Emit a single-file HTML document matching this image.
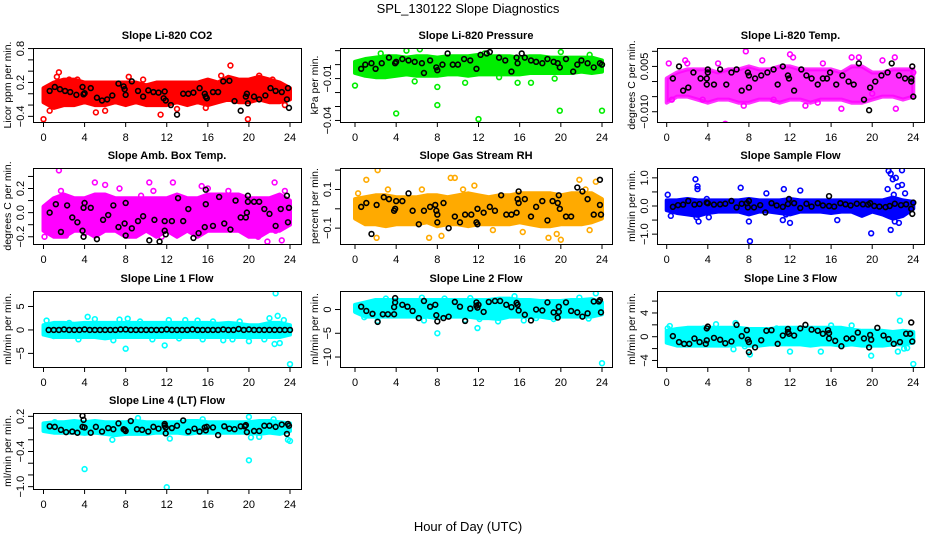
<!DOCTYPE html>
<html><head><meta charset="utf-8">
<style>
html,body{margin:0;padding:0;background:#fff;}
svg{display:block;font-family:"Liberation Sans",Helvetica,Arial,sans-serif;}
</style></head>
<body>
<svg id="chart" width="936" height="540" viewBox="0 0 936 540" xmlns="http://www.w3.org/2000/svg">
<rect x="0" y="0" width="936" height="540" fill="#fff"/>
<text x="468" y="13" text-anchor="middle" font-size="13">SPL_130122  Slope Diagnostics</text>
<text x="468" y="531" text-anchor="middle" font-size="13">Hour of Day (UTC)</text>
</svg>
<script>
// shared band hours
const bandHours = [0,1,2,3,4,5,6,7,8,9,10,11,12,13,14,15,16,17,18,19,20,21,22,23,24];
const xTicks = [0,4,8,12,16,20,24];

// Panel 1: CO2
const p1Lo = [-0.15,-0.25,-0.2,-0.2,-0.15,-0.2,-0.2,-0.15,-0.2,-0.15,-0.2,-0.2,-0.2,-0.15,-0.2,-0.15,-0.2,-0.15,-0.1,-0.15,-0.15,-0.1,-0.15,-0.15,-0.1];
const p1Hi = [0.1,0.2,0.25,0.25,0.2,0.2,0.2,0.2,0.2,0.2,0.15,0.2,0.2,0.2,0.2,0.2,0.25,0.2,0.3,0.25,0.25,0.3,0.25,0.2,0.1];
const p1OutX = [1.6,1.5,0,18.2,19.9,11.4,6,5.1,0.6,21,23.5,2.5,8.3,13,1.3,3.3,9.7,15.8,17.3,22.3];
const p1OutY = [0.85,0.38,-0.45,0.5,-0.45,-0.37,-0.3,-0.33,-0.3,0.32,-0.2,0.25,0.3,-0.27,0.3,0.25,0.25,-0.25,0.32,0.25];
const p1BlkX = [0.6,1.1,1.6,2.1,2.6,3.2,3.8,3.9,4,4.6,5.2,5.7,6.2,6.7,7.3,7.8,7.9,8,8.6,9.2,9.7,10.2,10.7,11.2,11.7,11.8,11.9,12.4,13,13.6,14.1,14.6,15.2,15.7,15.8,15.9,16.5,17,17.5,18.1,18.6,19.2,19.7,19.8,19.9,20.5,21,21.6,22.1,22.6,23.2,23.7,23.8,23.9];
const p1BlkY = [0.05,0.12,0.08,0.05,0.03,-0.02,0.12,-0.01,0.01,0.1,-0.07,-0.12,-0.1,-0.03,0.18,0.13,0.08,-0.02,0.22,0.05,-0.05,0.06,0.03,0.02,-0.08,0.04,-0.12,-0.2,-0.37,0.0,0.0,0.02,0.1,0.0,-0.05,-0.08,0.03,0.03,0.22,0.23,-0.13,-0.3,-0.05,0.0,-0.17,-0.05,-0.1,-0.03,0.1,0.05,0.03,-0.1,0.1,-0.25];

// Panel 2: Pressure
const p2Lo = [-0.006,-0.008,-0.009,-0.009,-0.008,-0.007,-0.008,-0.008,-0.008,-0.007,-0.007,-0.008,-0.007,-0.007,-0.007,-0.007,-0.007,-0.006,-0.006,-0.006,-0.006,-0.006,-0.005,-0.006,-0.005];
const p2Hi = [0.002,0.004,0.005,0.006,0.006,0.005,0.006,0.006,0.005,0.006,0.006,0.006,0.007,0.006,0.006,0.006,0.005,0.006,0.006,0.005,0.005,0.005,0.005,0.005,0.003];
const p2OutX = [0,4,8,12,19.9,24,8,15.8,17.1,5,6.3,20,22.8,10.7,5.8,2.5,12.6,14,19.4];
const p2OutY = [-0.015,-0.035,-0.029,-0.039,-0.033,-0.033,-0.016,-0.013,-0.013,0.01,0.011,0.009,0.007,-0.013,-0.012,0.008,0.008,-0.009,-0.01];
const p2BlkX = [0.6,1,1.6,2,2.6,3.3,3.9,4,4.6,5.2,5.8,6.5,6.7,7.3,7.9,8,8.5,9,9.5,10,10.6,11.2,11.8,12.2,12.8,13.1,14,14.6,15.2,15.7,15.8,16.2,16.5,17.1,17.6,18.2,18.7,19.3,19.7,19.9,20.5,21.2,21.6,22,22.6,23.2,23.8,24];
const p2BlkY = [-0.003,0,0.001,-0.003,0.001,0.005,0.001,0.002,0.004,0.003,0.002,0.001,-0.006,0.003,-0.002,-0.004,0,0.008,0,0,0.004,0.003,-0.003,0.007,0.008,0.009,0.005,0.003,-0.005,0.005,0.001,0.008,0.005,0.003,0.002,0.001,0.004,0.002,0.001,-0.002,0.004,-0.005,0,0.003,0.001,-0.002,0.001,0];

// Panel 3: Li-820 Temp
const p3Lo = [-0.007,-0.005,-0.005,-0.006,-0.007,-0.006,-0.006,-0.007,-0.007,-0.006,-0.006,-0.007,-0.006,-0.006,-0.007,-0.006,-0.006,-0.006,-0.007,-0.007,-0.006,-0.005,-0.005,-0.006,-0.005];
const p3Hi = [0.001,0.003,0.004,0.004,0.004,0.003,0.004,0.004,0.005,0.004,0.004,0.005,0.005,0.004,0.004,0.004,0.004,0.003,0.005,0.005,0.003,0.003,0.004,0.004,0.004];
const p3OutX = [0.2,1.8,2,5.7,7.7,12,12.3,17,18,18.7,22.3,22.2,7.5,3.5,10.4,14.7,0.5,20,13.5,5,9.3,15.2,21,24];
const p3OutY = [0.006,0.007,0.006,-0.014,0.01,0.009,0.008,-0.009,0.008,0.008,-0.009,0.008,-0.008,-0.006,-0.006,-0.007,-0.006,-0.004,-0.008,0.006,0.007,0.006,0.007,0.003];
const p3BlkX = [0.6,1.2,1.6,2.1,2.6,3.3,3.9,3.9,4,4,4.6,5.2,5.8,6.3,6.8,7.3,7.9,8,8,8.6,9.2,9.8,10.4,10.8,11.3,11.8,11.9,12.4,13.1,13.6,14.1,14.7,15.2,15.6,15.9,16.5,17.1,17.7,18.2,18.7,19.2,19.7,19.8,20.3,20.9,21.5,21.9,22.6,23.2,23.8,23.9,24,23.8];
const p3BlkY = [0.001,0.005,-0.003,-0.002,0.003,0.001,0.001,-0.001,0.004,0.003,-0.001,0.004,-0.001,0.003,0.004,-0.003,0.003,-0.002,0.002,0.001,0.002,0.003,0.004,-0.001,0.005,0.002,0.001,-0.003,0.004,0.002,0.001,-0.001,0.001,0.001,0.003,-0.001,0.002,0,-0.001,0.006,-0.006,-0.0095,-0.002,0,0.002,0.003,0.006,0.002,0.001,0.001,0.005,-0.005,0];

// Panel 4: Amb. Box Temp
const p4Lo = [-0.15,-0.2,-0.2,-0.15,-0.15,-0.2,-0.15,-0.15,-0.2,-0.2,-0.15,-0.2,-0.15,-0.2,-0.15,-0.2,-0.15,-0.15,-0.15,-0.15,-0.2,-0.2,-0.15,-0.15,-0.1];
const p4Hi = [0.05,0.12,0.15,0.12,0.12,0.15,0.15,0.12,0.12,0.12,0.12,0.12,0.12,0.15,0.12,0.12,0.15,0.15,0.15,0.15,0.12,0.12,0.12,0.15,0.1];
const p4OutX = [1.5,0.1,5,6,7.4,10.3,12.6,15.4,16,22.5,21.8,23.2,20.9,22.6,4,5.3,8.2,1.7,2.2,13,11.5,9.5,10.7,18,23.5];
const p4OutY = [0.35,-0.2,0.25,0.23,0.2,0.25,0.25,0.22,0.2,0.25,-0.24,-0.23,-0.2,-0.15,-0.17,-0.17,-0.18,0.18,-0.19,-0.17,-0.2,0.14,0.18,0.18,0.18];
const p4BlkX = [0.6,1.2,1.7,2.3,2.8,3.3,3.8,3.9,3.9,4,4.6,5.2,5.8,6.3,6.8,7.3,7.9,8,8,8.6,9.2,9.7,10.3,10.8,11.3,11.8,11.8,11.9,12.5,13.1,13.6,14.1,14.6,15.1,15.7,15.8,15.8,16.5,17.1,17.6,18.2,18.7,19.2,19.7,19.8,19.9,19.9,20.5,21,21.5,22,22.6,23.1,23.7,23.8,23.9];
const p4BlkY = [0,0.07,-0.16,0.06,-0.04,-0.08,-0.15,0.04,-0.2,0.08,0.04,-0.22,-0.06,-0.02,0.06,-0.12,-0.09,0.08,-0.19,-0.13,-0.07,-0.03,-0.23,-0.06,-0.24,-0.07,-0.15,-0.18,-0.07,0.12,-0.07,0.03,-0.21,-0.17,-0.12,0.07,0.19,-0.11,0.13,-0.09,-0.14,0.1,-0.04,-0.04,0,0.14,0.09,0.09,0.09,0.03,-0.01,-0.11,0.03,0.14,-0.08,0.04];

// Panel 5: Gas Stream RH
const p5Lo = [-0.05,-0.08,-0.08,-0.09,-0.08,-0.08,-0.08,-0.07,-0.09,-0.08,-0.08,-0.09,-0.08,-0.08,-0.08,-0.08,-0.07,-0.08,-0.09,-0.09,-0.08,-0.08,-0.08,-0.07,-0.05];
const p5Hi = [0.05,0.06,0.07,0.07,0.06,0.06,0.06,0.07,0.07,0.06,0.07,0.08,0.07,0.06,0.07,0.07,0.08,0.08,0.08,0.08,0.07,0.08,0.08,0.08,0.05];
const p5OutX = [2.2,1.1,9.3,9.7,11.6,21.8,23.4,2.1,7.2,8.4,16.3,18.8,19.6,20,22.8,13.4,0.3,3.2,14.4,6.5,10.5,22.4];
const p5OutY = [0.2,0.15,0.16,0.16,0.12,0.15,0.14,-0.15,-0.15,-0.14,-0.12,-0.15,-0.13,-0.16,-0.11,-0.11,0.08,0.1,0.06,0.1,0.1,0.1];
const p5BlkX = [0.6,1.1,1.6,2.1,2.8,3.3,3.8,3.9,4,4.6,5.2,5.6,6.2,6.7,7.3,7.8,7.9,8,8,8.6,9.1,9.7,10.2,10.7,11.3,11.8,11.9,11.9,12.5,13.1,13.6,14.2,14.7,15.2,15.7,15.8,15.9,15.9,16.5,17.1,17.6,18.2,18.7,19.2,19.7,19.8,19.9,20.5,21,21.6,22.1,22.6,23.2,23.8,23.8,23.9];
const p5BlkY = [0.01,0.03,-0.13,0.02,0.06,0.05,-0.01,0,0.04,0.04,0.08,-0.01,-0.08,-0.01,0.01,0.02,-0.01,-0.03,-0.07,0.03,-0.1,-0.04,-0.07,-0.03,-0.03,-0.07,-0.08,0,-0.02,0.01,-0.01,0.07,-0.03,-0.03,-0.02,0.05,0.03,0.09,0.05,-0.04,0.01,0.04,-0.06,0.04,0.03,0.07,0,-0.04,-0.04,0.11,0.09,0.05,-0.03,0.15,0.02,-0.03];

// Panel 6: Sample Flow
const p6Lo = [-0.15,-0.25,-0.3,-0.35,-0.25,-0.2,-0.2,-0.2,-0.3,-0.2,-0.2,-0.25,-0.3,-0.2,-0.2,-0.2,-0.25,-0.2,-0.2,-0.35,-0.2,-0.3,-0.45,-0.35,-0.1];
const p6Hi = [0.2,0.2,0.25,0.2,0.2,0.2,0.2,0.2,0.25,0.2,0.2,0.2,0.25,0.2,0.2,0.2,0.2,0.2,0.2,0.2,0.2,0.2,0.3,0.2,0.15];
const p6OutX = [0.1,0.4,2.8,3,3,3.1,2.9,7.2,8,8.1,9.7,11.4,11.3,11.6,12,13,16.6,19.9,21.5,21.6,21.8,22,22.3,22.5,22.9,23.2,21.8,22.2,22.6,22.9,21.9,22.1,4.1,3.9];
const p6OutY = [0.4,-0.35,0.95,0.7,0.6,-0.55,-0.4,0.65,-0.55,-1.25,0.45,0.6,-0.5,-0.3,-0.6,0.55,-0.5,-0.97,0.6,1.25,1.15,0.95,1.0,0.7,1.27,0.45,-0.85,-0.55,-0.6,0.75,-0.3,0.4,-0.4,0.25];
const p6BlkX = [0.6,1.1,1.6,2.1,2.7,3.2,3.9,4,4.6,5.2,5.7,6.3,6.8,7.3,7.8,7.9,8,8.5,9.1,9.6,10.2,10.7,11.3,11.8,11.9,12.4,13,13.6,14.1,14.7,15.2,15.8,15.8,16.3,16.9,17.4,17.9,18.5,19.1,19.6,19.8,20.2,20.7,21.3,21.7,22.2,22.8,23.3,23.8,23.9,24];
const p6BlkY = [-0.03,0.03,0.05,0.18,0.05,0.07,0.12,0.1,0.05,0.06,0.08,0.18,-0.05,0.08,0.1,-0.05,0.18,-0.05,0.03,-0.23,0.1,0.02,-0.03,0.07,0.25,0.1,-0.07,0.08,-0.02,0.1,0.02,0.35,0,-0.02,0.1,0.06,0.02,0.08,0.06,0.05,0.1,0,-0.02,-0.04,0,0.08,0.03,0.06,-0.1,-0.28,0.12];

// Panel 7: Line 1 Flow
const p7Lo = [-1,-1.5,-1.5,-1.5,-1.5,-1.5,-1.8,-1.5,-1.5,-1.5,-1.5,-1.5,-1.5,-1.5,-1.5,-1.5,-1.5,-1.5,-1.5,-1.5,-1.5,-1.5,-1.5,-1.5,-1];
const p7Hi = [1,1.5,1.5,1.3,1.5,1.5,1.5,1.5,1.5,1.5,1.5,1.5,1.5,1.5,1.5,1.5,1.5,1.3,1.5,1.3,1,1,1.5,1.5,1];
const p7OutX = [0.3,4.3,5,8,8.2,11.8,12.2,13.8,15,16.5,17.5,18.4,19.1,20,21.5,22,22.6,22.8,22.5,23,23.4,24,6.8,3.4,10.6,1,7.4,9.4,13.2,15.5,2.5];
const p7OutY = [2,2.8,2.3,-4,2.4,-3.3,2.1,2.1,2,1.8,-2.2,-2,1.8,-2.4,-2,2.5,7.8,3,-3,-2.8,2.1,-7.3,-2.2,-2,-2,-1.3,2.2,1.8,-1.8,-2,1.5];
const p7BlkX = [0.5,1,1.5,2,2.5,3,3.5,4,4.5,5,5.5,6,6.5,7,7.5,8,8.5,9,9.5,10,10.5,11,11.5,12,12.5,13,13.5,14,14.5,15,15.5,16,16.5,17,17.5,18,18.5,19,19.5,20,20.5,21,21.5,22,22.5,23,23.5,24];
const p7BlkY = [0,0,0,0.1,0,0,0,0.1,0,0,0,0,0,0,0.1,0.1,0,0,0,0,0,0,0,0.1,0,0,0,0,0.1,0,0,0,0,0,0.1,0,0,0.2,0,0.1,0,0,0,0,0,0,0,0];

// Panel 8: Line 2 Flow
const p8Lo = [-0.5,-1.5,-1.5,-1.5,-1.5,-1.5,-1.5,-1.5,-1.8,-1.5,-1.5,-1.5,-1.8,-1.8,-2,-1.5,-1.5,-1.5,-1.5,-1.8,-1.5,-1.5,-1.5,-1.5,-1];
const p8Hi = [1,1.5,2,2,2,2,2,2,2,2,2,2,2,2,2.3,2.3,2,2,1.8,1.8,1.8,2,2,2.2,1.5];
const p8OutX = [8,11.9,24,23.4,15.5,13.9,16.4,10.7,6.7,2.2,17.6,19.3,22.7,21.8,8.7,11.2,3,12.1,6.5,0.9];
const p8OutY = [-5,-3.9,-11.3,3.4,2.8,-2.5,-2.3,-2.2,-2.3,-2.4,-1.8,-2,-1.9,2.5,2.3,2.4,2.3,-2,2.5,-1.6];
const p8BlkX = [0.6,1.1,1.7,2.2,2.7,3.2,3.8,3.8,3.9,3.9,4.6,5.1,5.6,6.2,6.7,7.3,7.8,7.9,8,8.6,9.1,9.7,10.2,10.7,11.2,11.8,11.8,11.9,12,12.5,13,13.6,14.1,14.7,15.2,15.7,15.8,15.9,16.5,17.1,17.6,18.2,18.7,19.3,19.7,19.8,19.8,20.5,21,21.6,22.1,22.6,23.2,23.7,23.8,23.9];
const p8BlkY = [0.6,-0.3,-0.9,-2.6,-1,-1,-1,0.5,2.4,1.5,1,0.6,-0.3,-1.8,1.8,0.6,1,-1.2,-2.5,-1.8,-1.5,1.6,0.6,-2.4,0.2,1.5,0.8,0.4,1,-0.5,1.6,1.8,1.8,1,0.5,1.4,1,-0.2,-1.1,-2.3,0,-0.2,1.5,-0.6,-1.7,-0.5,0.6,1.5,-0.3,-0.6,-1.5,-0.8,1.7,1.7,2,-0.6];

// Panel 9: Line 3 Flow
const p9Lo = [-1,-1.5,-1.5,-1.5,-1.5,-1.5,-1.5,-1.3,-1.5,-1.5,-1.3,-1.3,-1.3,-1.3,-1.5,-1.3,-1.3,-1.5,-1.3,-1.5,-1.5,-1.5,-1.3,-1.3,-1];
const p9Hi = [1,1.3,1.5,1.5,1.5,1.5,1.5,1.5,1.3,1.3,1.3,1.5,1.5,1.5,1.5,1.5,1.5,1.5,1.2,1,1,1,0.8,1,0.8];
const p9OutX = [0.1,0.3,6.7,6.5,8.1,12,15,19.9,22.6,22.7,22.5,23.1,23.4,24,7.6,3.6,10.7,18,4.8,16];
const p9OutY = [1.4,1.8,2.3,-2.1,-3,-2.5,-2.5,-3.2,7.3,2.7,-2.5,-2,-1.9,-4.6,-1.6,1.4,1.4,1.9,2.1,1.9];
const p9BlkX = [0.6,1.2,1.7,2.2,2.7,3.2,3.8,3.9,3.9,4,4.6,5.2,5.7,6.3,6.8,7.3,7.8,7.9,8,8,8.6,9.2,9.7,10.2,10.8,11.3,11.8,11.8,11.9,12.4,13,13.5,14.1,14.7,15.2,15.7,15.8,15.8,16.4,17,17.5,18.1,18.6,19.2,19.7,19.8,19.9,20.5,21.1,21.6,22.1,22.7,23.3,23.7,23.8,23.9];
const p9BlkY = [0.1,-0.9,-1.2,-1.2,-0.3,-0.9,-1.2,-0.6,1.4,1.7,-0.2,-0.5,-1.1,-0.8,2,0.1,1.1,-0.5,-2.6,-0.9,-1.8,-0.6,1,1.1,-1.2,0.2,1.3,0.8,0.5,0.2,1.4,2,1.2,1,0.5,1.1,0.6,-0.3,-0.7,-1.6,-0.3,-0.3,0.7,-0.3,-1.8,0.3,-0.5,1.5,0.2,-0.4,-1.2,-0.9,0.5,0.5,2.4,-0.8];

// Panel 10: Line 4 (LT) Flow
const p10Lo = [-0.05,-0.08,-0.08,-0.08,-0.1,-0.08,-0.1,-0.12,-0.1,-0.1,-0.1,-0.08,-0.08,-0.08,-0.1,-0.08,-0.08,-0.08,-0.08,-0.08,-0.08,-0.1,-0.08,-0.1,-0.05];
const p10Hi = [0.08,0.1,0.1,0.12,0.1,0.12,0.1,0.1,0.1,0.12,0.1,0.1,0.1,0.1,0.12,0.12,0.1,0.1,0.1,0.1,0.1,0.12,0.12,0.1,0.08];
const p10OutX = [4,12,20,24,9.2,20,6.7,12.3,20.2,21,23.8,22.4,15.5,1.1,3.5];
const p10OutY = [-0.7,-1.01,-0.55,-0.22,0.17,0.19,-0.2,-0.18,-0.16,-0.15,-0.2,0.15,0.15,0.1,0.08];
const p10BlkX = [0.6,1.1,1.7,2.2,2.8,3.3,3.8,3.8,3.9,4,4.6,5.1,5.7,6.3,6.8,7.3,7.8,7.9,8,8.5,9.1,9.6,10.2,10.7,11.2,11.8,11.8,11.9,11.9,12.5,13,13.6,14.1,14.7,15.2,15.7,15.8,15.9,16.5,17,17.6,18.1,18.6,19.2,19.6,19.7,19.8,20.5,21,21.5,22,22.6,23.2,23.7,23.8,23.9];
const p10BlkY = [0.03,0.02,-0.03,-0.07,-0.06,-0.08,0.21,0.02,0.14,0.01,-0.08,0.02,-0.06,0,-0.02,0.08,-0.02,-0.03,-0.05,0.12,-0.02,-0.03,-0.06,0.02,-0.01,0.07,0.04,0.01,-0.09,0,0.04,0.13,-0.06,-0.01,-0.06,0.01,-0.04,0.02,0.01,-0.12,0.03,-0.01,-0.02,0.03,0.03,0.05,-0.07,-0.05,-0.05,0.04,0.04,0.02,0.06,-0.1,0.07,0.04];

// Tick arrays
const p1Ticks=[0.8,0.6,0.4,0.2,0,-0.2,-0.4], p1Labels=["0.8","","","0.2","","","-0.4"];
const p2Ticks=[0.01,0,-0.01,-0.02,-0.03,-0.04], p2Labels=["","","-0.01","","","-0.04"];
const p3Ticks=[0.01,0.005,0,-0.005,-0.01], p3Labels=["","0.005","","","-0.010"];
const p4Ticks=[0.3,0.2,0.1,0,-0.1,-0.2], p4Labels=["","0.2","","0.0","","-0.2"];
const p5Ticks=[0.2,0.1,0,-0.1], p5Labels=["","0.1","","-0.1"];
const p6Ticks=[1,0.5,0,-0.5,-1], p6Labels=["1.0","","0.0","","-1.0"];
const p7Ticks=[5,0,-5], p7Labels=["5","0","-5"];
const p8Ticks=[0,-5,-10], p8Labels=["0","-5","-10"];
const p9Ticks=[6,4,2,0,-2,-4], p9Labels=["","4","","0","","-4"];
const p10Ticks=[0.2,0,-0.2,-0.4,-0.6,-0.8,-1.0], p10Labels=["0.2","","","-0.4","","","-1.0"];

const NS="http://www.w3.org/2000/svg";
const svg=document.getElementById('chart');
function mk(tag,attrs,parent){const e=document.createElementNS(NS,tag);for(const k in attrs)e.setAttribute(k,attrs[k]);(parent||svg).appendChild(e);return e;}

const cols=[{l:33,r:301,x0:43.5,x24:290},{l:340,r:612,x0:355,x24:602},{l:657,r:924,x0:666.7,x24:913.3}];
const rows=[{t:48,b:122},{t:168,b:244},{t:291,b:367},{t:413,b:489}];

const panels=[
 {key:'co2',title:'Slope Li-820 CO2',ylab:'Licor ppm per min.',c:0,r:0,ymax:0.81,ymin:-0.5,col:'#ff0000',op:1,lo:p1Lo,hi:p1Hi,ox:p1OutX,oy:p1OutY,bx:p1BlkX,by:p1BlkY,ticks:p1Ticks,labels:p1Labels},
 {key:'pressure',title:'Slope Li-820 Pressure',ylab:'kPa per min.',c:1,r:0,ymax:0.0119,ymin:-0.0411,col:'#00ee00',op:1,lo:p2Lo,hi:p2Hi,ox:p2OutX,oy:p2OutY,bx:p2BlkX,by:p2BlkY,ticks:p2Ticks,labels:p2Labels},
 {key:'li820-temp',title:'Slope Li-820 Temp.',ylab:'degrees C per min.',c:2,r:0,ymax:0.0111,ymin:-0.0134,col:'#ff00ff',op:0.8,lo:p3Lo,hi:p3Hi,ox:p3OutX,oy:p3OutY,bx:p3BlkX,by:p3BlkY,ticks:p3Ticks,labels:p3Labels},
 {key:'amb-box-temp',title:'Slope Amb. Box Temp.',ylab:'degrees C per min.',c:0,r:1,ymax:0.37,ymin:-0.26,col:'#ff00ff',op:1,lo:p4Lo,hi:p4Hi,ox:p4OutX,oy:p4OutY,bx:p4BlkX,by:p4BlkY,ticks:p4Ticks,labels:p4Labels},
 {key:'gas-rh',title:'Slope Gas Stream RH',ylab:'percent per min.',c:1,r:1,ymax:0.211,ymin:-0.182,col:'#ffaa00',op:1,lo:p5Lo,hi:p5Hi,ox:p5OutX,oy:p5OutY,bx:p5BlkX,by:p5BlkY,ticks:p5Ticks,labels:p5Labels},
 {key:'sample-flow',title:'Slope Sample Flow',ylab:'ml/min per min.',c:2,r:1,ymax:1.35,ymin:-1.35,col:'#0000ff',op:1,lo:p6Lo,hi:p6Hi,ox:p6OutX,oy:p6OutY,bx:p6BlkX,by:p6BlkY,ticks:p6Ticks,labels:p6Labels},
 {key:'line1-flow',title:'Slope Line 1 Flow',ylab:'ml/min per min.',c:0,r:2,ymax:8.3,ymin:-7.9,col:'#00ffff',op:1,lo:p7Lo,hi:p7Hi,ox:p7OutX,oy:p7OutY,bx:p7BlkX,by:p7BlkY,ticks:p7Ticks,labels:p7Labels},
 {key:'line2-flow',title:'Slope Line 2 Flow',ylab:'ml/min per min.',c:1,r:2,ymax:3.9,ymin:-12.1,col:'#00ffff',op:1,lo:p8Lo,hi:p8Hi,ox:p8OutX,oy:p8OutY,bx:p8BlkX,by:p8BlkY,ticks:p8Ticks,labels:p8Labels},
 {key:'line3-flow',title:'Slope Line 3 Flow',ylab:'ml/min per min.',c:2,r:2,ymax:7.7,ymin:-5.1,col:'#00ffff',op:1,lo:p9Lo,hi:p9Hi,ox:p9OutX,oy:p9OutY,bx:p9BlkX,by:p9BlkY,ticks:p9Ticks,labels:p9Labels},
 {key:'line4-flow',title:'Slope Line 4 (LT) Flow',ylab:'ml/min per min.',c:0,r:3,ymax:0.257,ymin:-1.04,col:'#00ffff',op:1,lo:p10Lo,hi:p10Hi,ox:p10OutX,oy:p10OutY,bx:p10BlkX,by:p10BlkY,ticks:p10Ticks,labels:p10Labels}
];

panels.forEach(p=>{
  const C=cols[p.c], R=rows[p.r];
  const g=mk('g',{});
  
  
  const X=h=>C.x0+(h/24)*(C.x24-C.x0);
  const Y=v=>R.t+(p.ymax-v)/(p.ymax-p.ymin)*(R.b-R.t);
  const clip='clip-'+p.key;
  const cp=mk('clipPath',{id:clip},g);
  mk('rect',{x:C.l,y:R.t,width:C.r-C.l,height:R.b-R.t},cp);
  const pg=mk('g',{'clip-path':'url(#'+clip+')'},g);
  let pts=[];
  bandHours.forEach((h,i)=>pts.push(X(h).toFixed(1)+','+Y(p.hi[i]).toFixed(1)));
  for(let i=bandHours.length-1;i>=0;i--)pts.push(X(bandHours[i]).toFixed(1)+','+Y(p.lo[i]).toFixed(1));
  const band=mk('polygon',{points:pts.join(' '),fill:p.col,'fill-opacity':p.op,stroke:p.col,'stroke-opacity':p.op,'stroke-width':4,'stroke-linejoin':'round'},pg);
  
  
  p.ox.forEach((h,i)=>{
    const c=mk('circle',{cx:X(h),cy:Y(p.oy[i]),r:2.4,fill:'none',stroke:p.col,'stroke-width':1.6},pg);
    
    
  });
  p.bx.forEach((h,i)=>{
    const c=mk('circle',{cx:X(h),cy:Y(p.by[i]),r:2.4,fill:'none',stroke:'#000','stroke-width':1.6},pg);
    
    
  });
  const box=mk('rect',{x:C.l+0.5,y:R.t+0.5,width:C.r-C.l,height:R.b-R.t,fill:'none',stroke:'#000','stroke-width':1},g);
  
  
  xTicks.forEach(t=>{
    const x=X(t);
    mk('line',{x1:x,y1:R.b,x2:x,y2:R.b+5,stroke:'#000','stroke-width':1},g);
    const tl=mk('text',{x:x,y:R.b+19,'text-anchor':'middle','font-size':11},g);
    tl.textContent=t;
    
    
  });
  p.ticks.forEach((t,i)=>{
    const y=Y(t);
    mk('line',{x1:C.l-5,y1:y,x2:C.l,y2:y,stroke:'#000','stroke-width':1},g);
    if(p.labels[i]){
      const lx=C.l-9;
      const tl=mk('text',{x:lx,y:y,'text-anchor':'middle','font-size':11,transform:'rotate(-90 '+lx+' '+y+')'},g);
      tl.textContent=p.labels[i].replace('-','\u2212');
      
      
    }
  });
  const tt=mk('text',{x:(C.l+C.r)/2,y:R.t-9,'text-anchor':'middle','font-size':11,'font-weight':'bold'},g);
  tt.textContent=p.title;
  
  
  const yx=Math.max(8,C.l-22), yy=(R.t+R.b)/2;
  const yl=mk('text',{x:yx,y:yy,'text-anchor':'middle','font-size':10.5,transform:'rotate(-90 '+yx+' '+yy+')'},g);
  yl.textContent=p.ylab;
  
  
});
</script>
</body></html>
